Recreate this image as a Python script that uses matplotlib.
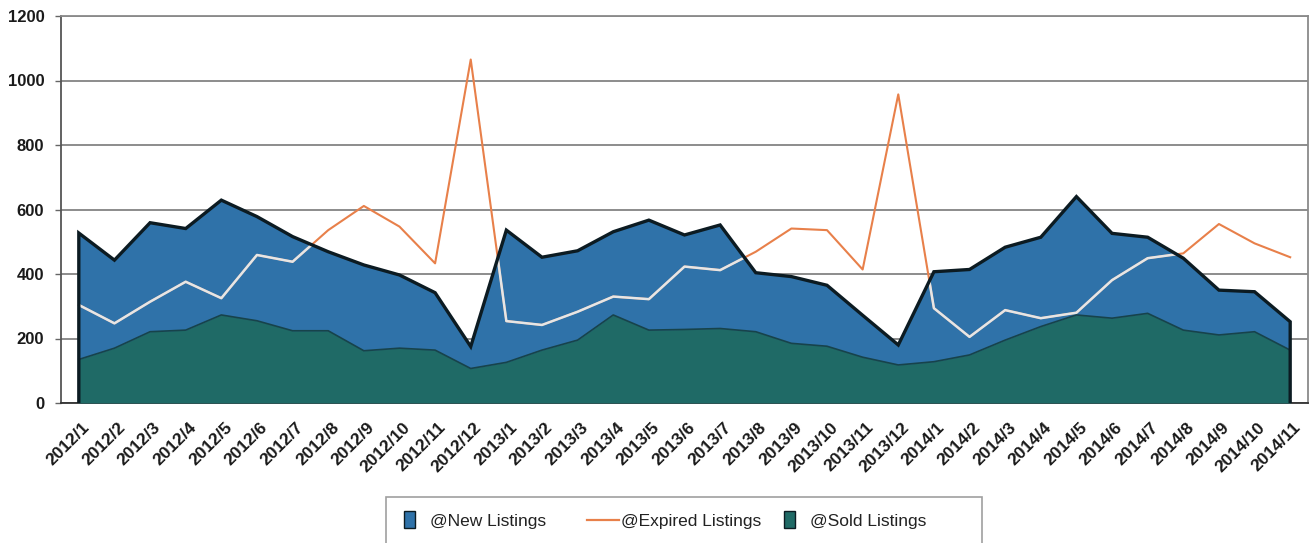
import numpy as np
import matplotlib
matplotlib.use("Agg")
import matplotlib.pyplot as plt
from matplotlib.patches import Rectangle
from matplotlib.lines import Line2D
from matplotlib.legend_handler import HandlerPatch
from matplotlib.transforms import ScaledTranslation

months = [
    "2012/1", "2012/2", "2012/3", "2012/4", "2012/5", "2012/6", "2012/7",
    "2012/8", "2012/9", "2012/10", "2012/11", "2012/12",
    "2013/1", "2013/2", "2013/3", "2013/4", "2013/5", "2013/6", "2013/7",
    "2013/8", "2013/9", "2013/10", "2013/11", "2013/12",
    "2014/1", "2014/2", "2014/3", "2014/4", "2014/5", "2014/6", "2014/7",
    "2014/8", "2014/9", "2014/10", "2014/11",
]
new_listings = [527, 443, 559, 541, 629, 578, 516, 469, 428, 397, 342, 175,
                536, 452, 472, 531, 567, 521, 552, 404, 392, 365, 272, 180,
                407, 414, 483, 514, 640, 526, 514, 449, 350, 345, 252]
expired_listings = [304, 247, 314, 376, 325, 459, 438, 536, 611, 547, 433, 1065,
                    254, 242, 283, 330, 322, 423, 412, 469, 541, 536, 414, 957,
                    294, 205, 288, 263, 280, 381, 449, 464, 555, 495, 452]
sold_listings = [135, 170, 221, 226, 273, 255, 224, 224, 162, 170, 164, 107,
                 126, 164, 195, 273, 226, 228, 231, 221, 185, 176, 142, 118,
                 128, 149, 195, 237, 273, 263, 278, 226, 211, 221, 164]
yticks = [0, 200, 400, 600, 800, 1000, 1200]

BLUE = "#2f72a9"
TEAL = "#1f6a66"
ORANGE = "#e8804a"
EDGE = "#0c1b22"

plt.rcParams["font.family"] = ["Liberation Sans", "DejaVu Sans"]

fig = plt.figure(figsize=(13.11, 5.43), dpi=100)
ax = fig.add_axes([61 / 1311, 1 - 403 / 543, 1247 / 1311, 387 / 543])

x = np.arange(len(months))
new = np.array(new_listings)
sold = np.array(sold_listings)

# filled areas (overlapping, not stacked)
area = ax.fill_between(x, 0, new, color=BLUE, lw=0, zorder=2)
ax.fill_between(x, 0, sold, color=TEAL, lw=0, zorder=3)
ax.plot(x, sold, color="#17434b", lw=1.2, zorder=3.5)

# expired line: orange on white, pale where it runs over the area
ax.plot(x, expired_listings, color=ORANGE, lw=1.5, zorder=4)
pale, = ax.plot(x, expired_listings, color="#e6e6e6", lw=1.8, zorder=5)
pale.set_clip_path(area.get_paths()[0], transform=ax.transData)

# thick dark outline around the new-listings area
ox = np.concatenate([[x[0]], x, [x[-1]]])
oy = np.concatenate([[0], new, [0]])
ax.plot(ox, oy, color=EDGE, lw=2.4, zorder=6, solid_joinstyle="miter")

ax.set_xlim(-0.5, len(months) - 0.5)
ax.set_ylim(0, 1200)
ax.set_yticks(yticks)
ax.set_yticklabels([str(v) for v in yticks], fontsize=12, fontweight="bold",
                   color="#1a1a1a")
ax.yaxis.grid(True, color="#838383", lw=1.3, zorder=1)
ax.set_axisbelow(True)
ax.tick_params(axis="y", length=4, width=1, color="#666666", pad=8)

ax.set_xticks(x)
ax.set_xticklabels(months, rotation=45, ha="right", va="top",
                   rotation_mode="anchor", fontsize=12.5, fontweight="bold",
                   color="#1a1a1a")
ax.tick_params(axis="x", length=0, pad=12)
shift = ScaledTranslation(3 / 100, 0, fig.dpi_scale_trans)
for lab in ax.get_xticklabels():
    lab.set_transform(lab.get_transform() + shift)

for side, col in (("left", "#555555"), ("top", "#8a8a8a"),
                  ("right", "#8a8a8a"), ("bottom", "#333333")):
    ax.spines[side].set_color(col)
    ax.spines[side].set_linewidth(1.3)


# legend: three separate entries placed along a wide gray box
def small_box(legend, orig_handle, xdescent, ydescent, width, height, fontsize):
    return Rectangle((-xdescent + 0.25 * width, -ydescent - 0.15 * height),
                     0.36 * width, 1.3 * height)


entries = [
    (Rectangle((0, 0), 1, 1, facecolor=BLUE, edgecolor=EDGE, lw=1.0),
     "@New Listings", 396),
    (Line2D([], [], color=ORANGE, lw=1.6), "@Expired Listings", 587),
    (Rectangle((0, 0), 1, 1, facecolor=TEAL, edgecolor=EDGE, lw=1.0),
     "@Sold Listings", 776),
]
for handle, label, px in entries:
    fig.legend([handle], [label], loc="center left",
               bbox_to_anchor=(px / 1311, 1 - 521 / 543),
               frameon=False, borderpad=0, borderaxespad=0,
               handlelength=1.83, handleheight=0.8, handletextpad=0.12,
               prop={"size": 12.5},
               handler_map={Rectangle: HandlerPatch(patch_func=small_box)},
               labelcolor="#222222")

fig.add_artist(Rectangle((386 / 1311, -0.02), 596 / 1311, 1 - 497 / 543 + 0.02,
                         transform=fig.transFigure, fill=False,
                         edgecolor="#a0a0a0", lw=1.2))

fig.savefig("out.png", dpi=100)
